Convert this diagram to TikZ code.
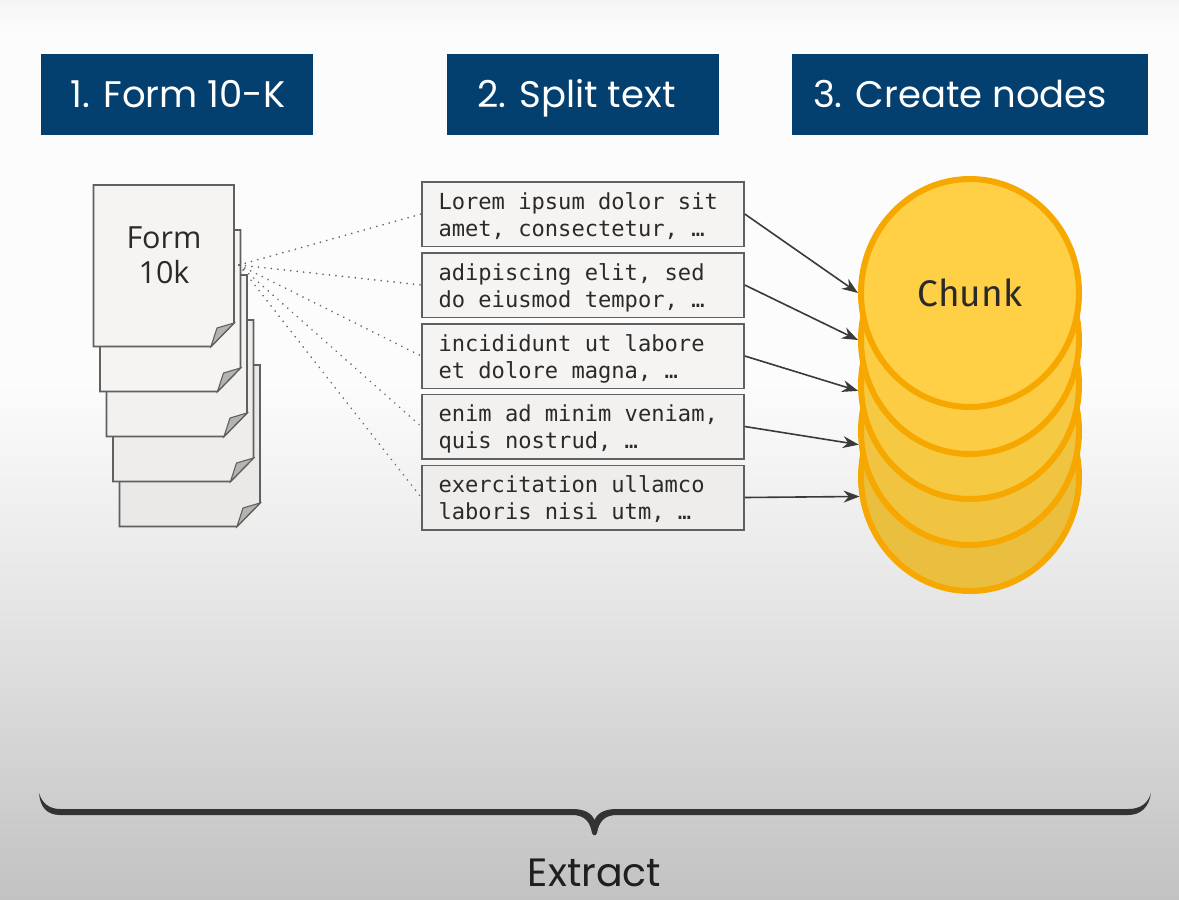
\documentclass[tikz,border=0pt]{standalone}
\usepackage{fontspec}
\setmainfont{Open Sans}
\newfontfamily\chunkfont{Fira Sans}
\newfontfamily\headfont{Poppins}
\newfontfamily\codefont{DejaVu Sans Mono}
\usetikzlibrary{shapes.geometric,arrows.meta}
\definecolor{headblue}{HTML}{03406F}
\definecolor{linegrey}{HTML}{606060}
\definecolor{dotgrey}{HTML}{666666}
\definecolor{arrowgrey}{HTML}{3A3A3A}
\definecolor{foldgrey}{HTML}{B4B4AF}
\definecolor{chunkline}{HTML}{F7A800}
\definecolor{inkgrey}{HTML}{2A2A2A}
\definecolor{paperA}{HTML}{F5F4F2}
\definecolor{paperB}{HTML}{F2F1EF}
\definecolor{paperC}{HTML}{EEEDEB}
\definecolor{paperD}{HTML}{EAE9E7}
\pgfdeclareverticalshading{bgshade}{100bp}{
  color(0bp)=(black!24);
  color(25bp)=(black!24);
  color(41.5bp)=(black!10);
  color(54bp)=(black!1);
  color(73bp)=(black!1);
  color(75bp)=(black!4);
  color(100bp)=(black!4)}
\newcommand{\codelines}[2]{\spaceskip=13.3pt\relax #1\\#2}
\tikzset{
  header/.style={fill=headblue,text=white,font=\headfont\fontsize{37}{40}\selectfont,inner sep=0pt,anchor=center,text height=27pt,text depth=0pt},
  sheet/.style={draw=linegrey,line width=1.6pt,line join=miter},
  fold/.style={draw=linegrey,line width=1.1pt,fill=foldgrey},
  textbox/.style={draw=linegrey,line width=1.5pt,minimum width=322pt,minimum height=64.5pt,inner sep=0pt,
    text width=289pt,align=left,text=inkgrey,text height=22pt,text depth=32pt,
    font=\codefont\fontsize{22.1}{27}\selectfont},
  chunk/.style={ellipse,draw=chunkline,line width=6pt,minimum width=218pt,minimum height=228pt,inner sep=0pt},
  dotline/.style={draw=dotgrey,line width=1.8pt,line cap=round,dash pattern=on 0.1pt off 6.4pt},
  flow/.style={draw=arrowgrey,line width=1.6pt,-{Stealth[length=16pt,width=12pt]}},
  bracefill/.style={fill=black!80,draw=none}
}
\newcommand{\sheetat}[3]{%
  \begin{scope}[shift={(#1,#2)}]
    \fill[#3] (0,0) -- (140.5,0) -- (140.5,138) -- (117.5,161.5) -- (0,161.5) -- cycle;
    \draw[sheet] (0,0) -- (140.5,0) -- (140.5,138) -- (117.5,161.5) -- (0,161.5) -- cycle;
    \draw[fold] (140.5,138) -- (123.5,143) -- (117.5,161.5) -- cycle;
  \end{scope}}
\begin{document}
\begin{tikzpicture}[x=1pt,y=-1pt]
\useasboundingbox (0,0) rectangle (1179,900);
\path[shading=bgshade] (0,0) rectangle (1179,900);

% headers
\node[header,minimum width=272pt,minimum height=81pt] (h1) at (177,94) {\hspace*{2pt}1. Form 10-K};
\node[header,minimum width=272pt,minimum height=81pt] (h2) at (583,94) {2. Split text\hspace*{13pt}};
\node[header,minimum width=356pt,minimum height=81pt] (h3) at (970,94) {3. Create nodes\hspace*{20pt}};

% pages
\sheetat{119.5}{365}{paperD}
\sheetat{113}{320}{paperC}
\sheetat{106.5}{275}{paperB}
\sheetat{100}{230}{paperA}
\sheetat{93.5}{185}{paperA}
\node[align=center,text=inkgrey,font=\fontsize{30.5}{35}\selectfont,inner sep=0pt] (doc) at (164,255) {Form\\10k};
\coordinate (src) at (239,265);

% text boxes
\node[textbox,fill=paperA] (b1) at (583,214) {\codelines{Lorem ipsum dolor sit}{amet, consectetur, …}};
\node[textbox,fill=paperA] (b2) at (583,285) {\codelines{adipiscing elit, sed}{do eiusmod tempor, …}};
\node[textbox,fill=paperA] (b3) at (583,356) {\codelines{incididunt ut labore}{et dolore magna, …}};
\node[textbox,fill=paperB] (b4) at (583,426.5) {\codelines{enim ad minim veniam,}{quis nostrud, …}};
\node[textbox,fill=paperC] (b5) at (583,497.5) {\codelines{exercitation ullamco}{laboris nisi utm, …}};

% chunks
\node[chunk,fill={rgb,255:red,234;green,190;blue,62}] (c5) at (970,477) {};
\node[chunk,fill={rgb,255:red,240;green,196;blue,64}] (c4) at (970,431) {};
\node[chunk,fill={rgb,255:red,246;green,201;blue,66}] (c3) at (970,385) {};
\node[chunk,fill={rgb,255:red,252;green,205;blue,68}] (c2) at (970,340) {};
\node[chunk,fill={rgb,255:red,255;green,207;blue,69},text=inkgrey,font=\chunkfont\fontsize{37}{40}\selectfont] (c1) at (970,293) {Chunk};

% dotted connectors
\foreach \n in {1,...,5} \draw[dotline] (src) -- (b\n.west);

% arrows
\draw[flow] (b1.east) -- (c1.west);
\draw[flow] (b2.east) -- (c2.west);
\draw[flow] (b3.east) -- (c3.183);
\draw[flow] (b4.east) -- (c4.187);
\draw[flow] (b5.east) -- (c5.190);

% brace
\path[bracefill] (39,793) .. controls (40,807) and (47,815) .. (60,815) -- (572,815)
  .. controls (584,815) and (590,821) .. (592,833) .. controls (593,836) and (596,836) .. (597,833)
  .. controls (599,821) and (605,815) .. (617,815) -- (1128,815)
  .. controls (1141,815) and (1149,807) .. (1151,793)
  .. controls (1148,803) and (1141,809) .. (1128,809) -- (617,809)
  .. controls (606,809) and (598,812) .. (594.5,820)
  .. controls (591,812) and (583,809) .. (572,809) -- (60,809)
  .. controls (49,809) and (42,803) .. (39,793) -- cycle;
\node[font=\headfont\fontsize{39.5}{42}\selectfont,text=black!88,inner sep=0pt] (extract) at (594.5,873) {Extract};
\end{tikzpicture}
\end{document}
